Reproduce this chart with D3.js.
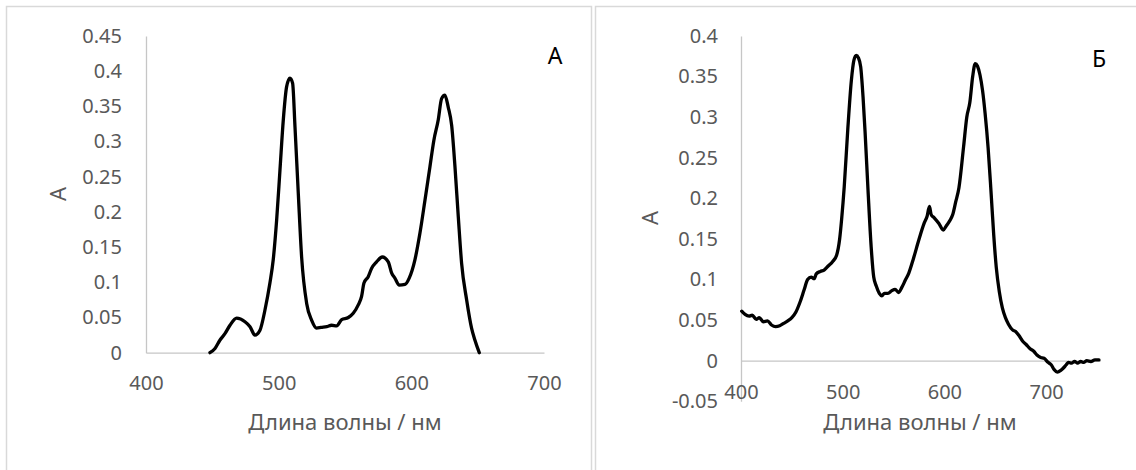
<!DOCTYPE html>
<html>
<head>
<meta charset="utf-8">
<script src="https://cdn.jsdelivr.net/npm/d3@7"></script>
<style>
  html, body { margin: 0; padding: 0; background: #ffffff; }
  #spectra { width: 1136px; height: 470px; overflow: hidden; }
  text { font-family: "Noto Sans", "Open Sans", sans-serif; }
</style>
</head>
<body>
<div id="spectra"></div>
<script>
// Panel А: absorbance spectrum
var leftWavelength = [448.2, 452, 455.8, 459.5, 463.3, 468.3, 474.6, 478.4, 482.1, 485.9,
  489.7, 493.4, 495.9, 498.5, 501, 503.5, 506, 508.5, 510.5, 512.3,
  514.8, 517.3, 521.1, 524.9, 528.6, 532, 536.2, 539.9, 543.7, 547.5,
  552.5, 556.2, 560, 562.5, 564.3, 567.5, 570.1, 573.8, 578.1, 582.6,
  585.2, 587.6, 590.9, 595.2, 598.4, 602.7, 606.5, 610.3, 614, 617,
  620.3, 622.8, 625.3, 627.8, 630.4, 632.9, 635.4, 637.9, 641.7, 645.4,
  647.9, 651.2];
var leftAbsorbance = [0, 0.006, 0.018, 0.027, 0.039, 0.049, 0.044, 0.037, 0.025, 0.032,
  0.061, 0.099, 0.132, 0.189, 0.26, 0.331, 0.378, 0.39, 0.383, 0.321,
  0.226, 0.136, 0.07, 0.046, 0.035, 0.036, 0.037, 0.039, 0.038, 0.047,
  0.05, 0.056, 0.068, 0.08, 0.099, 0.108, 0.12, 0.129, 0.136, 0.129,
  0.113, 0.106, 0.096, 0.097, 0.106, 0.132, 0.17, 0.217, 0.264, 0.302,
  0.331, 0.361, 0.366, 0.349, 0.323, 0.264, 0.193, 0.127, 0.075, 0.035,
  0.018, 0];

// Panel Б
var rightWavelength = [400.7, 404, 408, 411, 415, 418, 422, 426, 430, 434,
  438, 442, 446, 450, 454, 458, 462, 465.5, 469, 472,
  474, 478, 482, 486, 490, 494, 497, 499, 501.5, 505,
  508.5, 511, 513.3, 515.5, 517.7, 520, 522, 524.9, 528, 530.5,
  533, 536, 538.5, 541, 544.5, 548, 551.5, 555, 558, 561.5,
  565, 569.6, 574.9, 580.3, 583, 585.3, 587, 590, 594.6, 598.9,
  601.8, 605, 608.2, 611, 614.3, 618.9, 622, 625, 627.8, 630.3,
  632.5, 635, 637.5, 640, 643, 646, 648.5, 651, 654, 657,
  660, 663, 667, 670, 673.3, 677, 680.4, 684, 687.6, 691,
  694.7, 698, 701.9, 705, 708, 711, 714.4, 717, 719.8, 722,
  725, 728, 731, 734, 737, 740, 744, 748, 752];
var rightAbsorbance = [0.061, 0.057, 0.055, 0.056, 0.051, 0.053, 0.048, 0.049, 0.044, 0.042,
  0.043, 0.046, 0.049, 0.053, 0.06, 0.072, 0.087, 0.1, 0.103, 0.101,
  0.107, 0.11, 0.112, 0.117, 0.122, 0.13, 0.15, 0.175, 0.214, 0.285,
  0.345, 0.37, 0.376, 0.373, 0.362, 0.325, 0.282, 0.21, 0.14, 0.103,
  0.092, 0.083, 0.08, 0.083, 0.083, 0.086, 0.088, 0.084, 0.09, 0.099,
  0.108, 0.126, 0.149, 0.17, 0.178, 0.19, 0.18, 0.176, 0.169, 0.161,
  0.166, 0.172, 0.18, 0.195, 0.213, 0.264, 0.3, 0.318, 0.35, 0.366,
  0.363, 0.352, 0.333, 0.305, 0.262, 0.205, 0.155, 0.115, 0.085, 0.065,
  0.053, 0.045, 0.038, 0.036, 0.031, 0.024, 0.02, 0.015, 0.012, 0.007,
  0.004, 0.003, -0.002, -0.005, -0.011, -0.014, -0.012, -0.009, -0.005, -0.002,
  -0.003, -0.001, -0.003, -0.001, -0.002, 0, -0.001, 0.001, 0.001];

var xTicks = [400, 500, 600, 700];
var leftYTicks = [0, 0.05, 0.1, 0.15, 0.2, 0.25, 0.3, 0.35, 0.4, 0.45];
var rightYTicks = [-0.05, 0, 0.05, 0.1, 0.15, 0.2, 0.25, 0.3, 0.35, 0.4];

var xTitle = 'Длина волны / нм';
var yTitle = 'A';

var AXIS_COLOR = '#c6c6c6';
var LABEL_COLOR = '#595959';
var FRAME_COLOR = '#d9d9d9';

var panels = [
  {
    name: 'А', wl: leftWavelength, abs: leftAbsorbance, yTicks: leftYTicks,
    xDomain: [400, 700], xRange: [146, 544],
    yDomain: [0, 0.45], yRange: [352.7, 36],
    frame: [6.5, 6.5, 585, 480],
    xLabelPad: 23, yLabelPad: 24,
    xTitlePos: [345, 430], yTitlePos: [66, 194], namePos: [555, 64]
  },
  {
    name: 'Б', wl: rightWavelength, abs: rightAbsorbance, yTicks: rightYTicks,
    xDomain: [400, 753], xRange: [741, 1100],
    yDomain: [-0.05, 0.4], yRange: [401.3, 36],
    frame: [595.5, 6.5, 560, 480],
    xLabelPad: 24, yLabelPad: 23,
    xTitlePos: [920, 430], yTitlePos: [658, 218], namePos: [1099, 67]
  }
];

var svg = d3.select('#spectra').append('svg')
  .attr('width', 1136)
  .attr('height', 470);

// Excel "General" style numbers: 0.45, 0.4, 0, -0.05
function general(d) {
  return String(+d.toFixed(2));
}

panels.forEach(function (p) {
  var g = svg.append('g');

  g.append('rect')
    .attr('x', p.frame[0]).attr('y', p.frame[1])
    .attr('width', p.frame[2]).attr('height', p.frame[3])
    .attr('fill', 'none')
    .attr('stroke', FRAME_COLOR)
    .attr('stroke-width', 1.5);

  var x = d3.scaleLinear().domain(p.xDomain).range(p.xRange);
  var y = d3.scaleLinear().domain(p.yDomain).range(p.yRange);

  // y axis along the left of the plot area
  var yAxis = g.append('g')
    .attr('transform', 'translate(' + p.xRange[0] + ',0)')
    .call(d3.axisLeft(y).tickValues(p.yTicks).tickFormat(general)
      .tickSize(0).tickSizeOuter(0).tickPadding(p.yLabelPad));

  // x axis crosses at A = 0
  var xAxis = g.append('g')
    .attr('transform', 'translate(0,' + y(0) + ')')
    .call(d3.axisBottom(x).tickValues(xTicks).tickFormat(d3.format('d'))
      .tickSize(0).tickSizeOuter(0).tickPadding(p.xLabelPad));

  [xAxis, yAxis].forEach(function (ax) {
    ax.select('.domain').attr('stroke', AXIS_COLOR).attr('stroke-width', 1.3);
    ax.selectAll('text')
      .attr('fill', LABEL_COLOR)
      .style('font-size', '20px')
      .style('font-family', '"Noto Sans", "Open Sans", sans-serif');
  });

  var points = p.wl.map(function (w, i) { return [w, p.abs[i]]; });
  var line = d3.line()
    .x(function (d) { return x(d[0]); })
    .y(function (d) { return y(d[1]); })
    .curve(d3.curveMonotoneX);

  g.append('path')
    .datum(points)
    .attr('d', line)
    .attr('fill', 'none')
    .attr('stroke', '#000000')
    .attr('stroke-width', 3.3)
    .attr('stroke-linejoin', 'round')
    .attr('stroke-linecap', 'round');

  g.append('text')
    .attr('x', p.xTitlePos[0]).attr('y', p.xTitlePos[1])
    .attr('text-anchor', 'middle')
    .attr('fill', LABEL_COLOR)
    .style('font-size', '22px')
    .text(xTitle);

  g.append('text')
    .attr('transform', 'translate(' + p.yTitlePos[0] + ',' + p.yTitlePos[1] + ') rotate(-90)')
    .attr('text-anchor', 'middle')
    .attr('fill', LABEL_COLOR)
    .style('font-size', '22px')
    .text(yTitle);

  g.append('text')
    .attr('x', p.namePos[0]).attr('y', p.namePos[1])
    .attr('text-anchor', 'middle')
    .attr('fill', '#000000')
    .style('font-size', '23px')
    .text(p.name);
});
</script>
</body>
</html>
